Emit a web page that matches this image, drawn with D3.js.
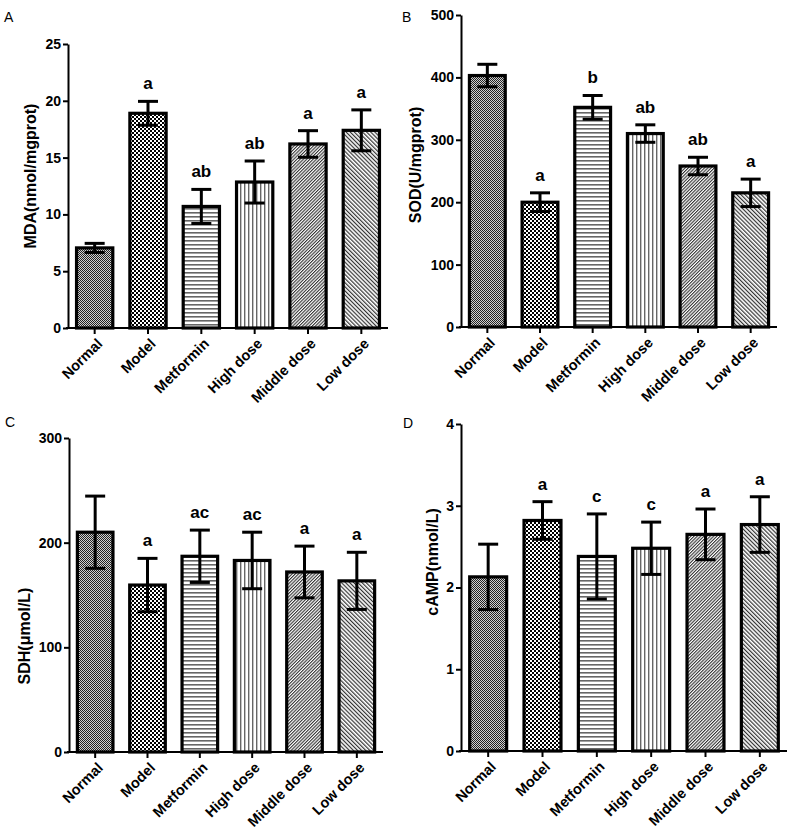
<!DOCTYPE html>
<html>
<head>
<meta charset="utf-8">
<script src="https://cdn.jsdelivr.net/npm/d3@7"></script>
<style>
  html, body { margin: 0; padding: 0; background: #fff; }
  svg { display: block; }
  text { font-family: "Liberation Sans", Arial, sans-serif; fill: #000; }
</style>
</head>
<body>
<svg id="chart" width="800" height="839"></svg>
<script>
// ---------- data ----------
const categories = ["Normal", "Model", "Metformin", "High dose", "Middle dose", "Low dose"];

const mdaMean = [7.05, 18.9, 10.7, 12.85, 16.2, 17.4];
const mdaErr  = [0.4, 1.05, 1.5, 1.85, 1.17, 1.8];
const mdaLetters = ["", "a", "ab", "ab", "a", "a"];
const mdaTicks = [0, 5, 10, 15, 20, 25];

const sodMean = [403, 200, 352, 310, 258, 215];
const sodErr  = [18, 15, 19, 14, 14, 22];
const sodLetters = ["", "a", "b", "ab", "ab", "a"];
const sodTicks = [0, 100, 200, 300, 400, 500];

const sdhMean = [210, 159.5, 187, 183, 172, 163.5];
const sdhErr  = [34.5, 25.5, 25, 27, 24.7, 27.3];
const sdhLetters = ["", "a", "ac", "ac", "a", "a"];
const sdhTicks = [0, 100, 200, 300];

const campMean = [2.13, 2.82, 2.38, 2.48, 2.65, 2.77];
const campErr  = [0.4, 0.23, 0.52, 0.32, 0.31, 0.34];
const campLetters = ["", "a", "c", "c", "a", "a"];
const campTicks = [0, 1, 2, 3, 4];

const patternIds = ["pNormal", "pModel", "pMet", "pHigh", "pMid", "pLow"];

// ---------- patterns ----------
const svg = d3.select("#chart");
const defs = svg.append("defs");

function pat(id, w, h, transform) {
  const p = defs.append("pattern").attr("id", id)
    .attr("patternUnits", "userSpaceOnUse").attr("width", w).attr("height", h);
  if (transform) p.attr("patternTransform", transform);
  return p;
}
{
  const p = pat("pNormal", 2, 2);
  p.append("rect").attr("width", 2).attr("height", 2).attr("fill", "#d0d0d0");
  p.append("rect").attr("x", 0).attr("y", 0).attr("width", 1).attr("height", 1).attr("fill", "#222");
  p.append("rect").attr("x", 1).attr("y", 1).attr("width", 1).attr("height", 1).attr("fill", "#222");
}
{
  const p = pat("pModel", 4, 4);
  p.append("rect").attr("width", 4).attr("height", 4).attr("fill", "#fff");
  p.append("rect").attr("x", 0).attr("y", 0).attr("width", 2).attr("height", 2).attr("fill", "#000");
  p.append("rect").attr("x", 2).attr("y", 2).attr("width", 2).attr("height", 2).attr("fill", "#000");
}
{
  const p = pat("pMet", 4, 4);
  p.append("rect").attr("width", 4).attr("height", 4).attr("fill", "#fff");
  p.append("rect").attr("x", 0).attr("y", 0).attr("width", 4).attr("height", 1.6).attr("fill", "#666");
}
{
  const p = pat("pHigh", 4, 4);
  p.append("rect").attr("width", 4).attr("height", 4).attr("fill", "#fff");
  p.append("rect").attr("x", 0).attr("y", 0).attr("width", 1.4).attr("height", 4).attr("fill", "#666");
}
{
  const p = pat("pMid", 2.3, 4, "rotate(45)");
  p.append("rect").attr("width", 2.3).attr("height", 4).attr("fill", "#fff");
  p.append("rect").attr("x", 0).attr("y", 0).attr("width", 1.1).attr("height", 4).attr("fill", "#333");
}
{
  const p = pat("pLow", 2.9, 4, "rotate(-45)");
  p.append("rect").attr("width", 2.9).attr("height", 4).attr("fill", "#fff");
  p.append("rect").attr("x", 0).attr("y", 0).attr("width", 1.2).attr("height", 4).attr("fill", "#333");
}

// ---------- panel drawing ----------
function drawPanel(cfg) {
  const g = svg.append("g");
  const x = d3.scaleBand().domain(categories).range([cfg.x0, cfg.x1])
    .paddingInner(0.32).paddingOuter(0.16);
  const y = d3.scaleLinear().domain([0, cfg.ticks[cfg.ticks.length - 1]])
    .range([cfg.yBottom, cfg.yTop]);

  // bars
  g.selectAll("rect.bar").data(cfg.mean).join("rect")
    .attr("class", "bar")
    .attr("x", (d, i) => x(categories[i]))
    .attr("width", x.bandwidth())
    .attr("y", d => y(d))
    .attr("height", d => y(0) - y(d))
    .attr("fill", (d, i) => `url(#${patternIds[i]})`)
    .attr("stroke", "#000").attr("stroke-width", 3.2);

  // error bars
  const capW = 20;
  cfg.mean.forEach((m, i) => {
    const cx = x(categories[i]) + x.bandwidth() / 2;
    const hi = y(m + cfg.err[i]), lo = y(m - cfg.err[i]);
    g.append("line").attr("x1", cx).attr("x2", cx).attr("y1", hi).attr("y2", lo)
      .attr("stroke", "#000").attr("stroke-width", 3);
    [hi, lo].forEach(yy => {
      g.append("line").attr("x1", cx - capW / 2).attr("x2", cx + capW / 2)
        .attr("y1", yy).attr("y2", yy).attr("stroke", "#000").attr("stroke-width", 3);
    });
    if (cfg.letters[i]) {
      g.append("text").attr("x", cx).attr("y", hi - 12)
        .attr("text-anchor", "middle").attr("font-weight", "bold")
        .attr("font-size", 17).text(cfg.letters[i]);
    }
  });

  // y axis
  const yAxis = g.append("g").attr("transform", `translate(${cfg.x0},0)`)
    .call(d3.axisLeft(y).tickValues(cfg.ticks).tickFormat(d3.format("d"))
      .tickSize(5).tickSizeOuter(0).tickPadding(2));
  yAxis.select(".domain").attr("stroke", "#000").attr("stroke-width", 2);
  yAxis.selectAll(".tick line").attr("stroke", "#000").attr("stroke-width", 2);
  yAxis.selectAll(".tick text").attr("font-size", 14).attr("font-weight", "bold")
    .attr("font-family", "Liberation Sans, Arial, sans-serif").attr("fill", "#000");

  // x axis
  const xAxis = g.append("g").attr("transform", `translate(0,${cfg.yBottom})`)
    .call(d3.axisBottom(x).tickSize(6).tickSizeOuter(0));
  xAxis.select(".domain").attr("stroke", "#000").attr("stroke-width", 2)
    .attr("d", `M${cfg.x0 - 2},0H${cfg.x1}`);
  xAxis.selectAll(".tick line").attr("stroke", "#000").attr("stroke-width", 2);
  xAxis.selectAll(".tick text")
    .attr("font-size", 14.5).attr("font-weight", "bold")
    .attr("font-family", "Liberation Sans, Arial, sans-serif").attr("fill", "#000")
    .attr("text-anchor", "end")
    .attr("dy", "0.35em")
    .attr("transform", "translate(5,13) rotate(-45)")
    .attr("x", 0).attr("y", 0);

  // axis title
  g.append("text")
    .attr("transform", `translate(${cfg.titleX},${cfg.titleY}) rotate(-90)`)
    .attr("text-anchor", "middle").attr("dominant-baseline", "central")
    .attr("font-weight", "bold").attr("font-size", 16).text(cfg.title);

  // panel label
  g.append("text").attr("x", cfg.labelX).attr("y", cfg.labelY)
    .attr("font-size", 14).text(cfg.label);
}

drawPanel({ x0: 68, x1: 388, yTop: 44, yBottom: 328, ticks: mdaTicks,
  mean: mdaMean, err: mdaErr, letters: mdaLetters, title: "MDA(nmol/mgprot)",
  titleX: 30, titleY: 176, label: "A", labelX: 4, labelY: 22 });

drawPanel({ x0: 461, x1: 777, yTop: 15, yBottom: 327, ticks: sodTicks,
  mean: sodMean, err: sodErr, letters: sodLetters, title: "SOD(U/mgprot)",
  titleX: 415, titleY: 165, label: "B", labelX: 402, labelY: 22 });

drawPanel({ x0: 69, x1: 383, yTop: 438, yBottom: 752, ticks: sdhTicks,
  mean: sdhMean, err: sdhErr, letters: sdhLetters, title: "SDH(μmol/L)",
  titleX: 24, titleY: 636, label: "C", labelX: 5, labelY: 427 });

drawPanel({ x0: 461, x1: 787, yTop: 424, yBottom: 751, ticks: campTicks,
  mean: campMean, err: campErr, letters: campLetters, title: "cAMP(nmol/L)",
  titleX: 432, titleY: 562, label: "D", labelX: 403, labelY: 428 });
</script>
</body>
</html>
